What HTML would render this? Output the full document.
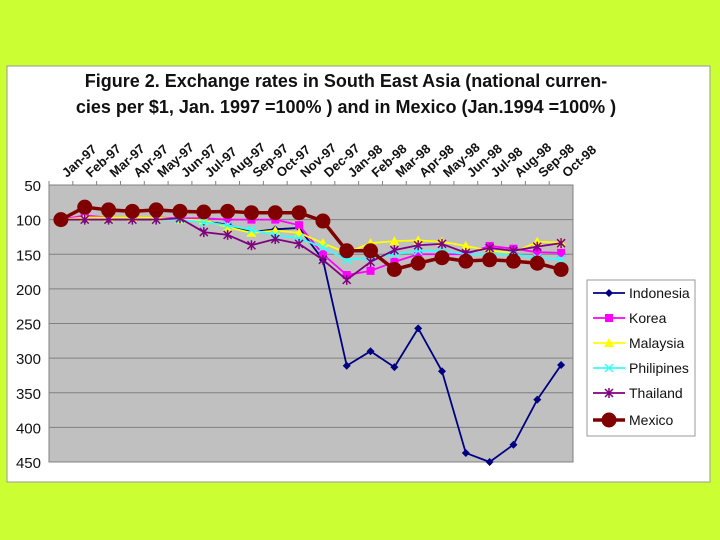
<!DOCTYPE html>
<html><head><meta charset="utf-8"><style>
body{margin:0;background:#ccff33;font-family:"Liberation Sans",Arial,sans-serif}
svg{display:block}
</style></head><body>
<svg width="720" height="540">
<rect x="0" y="0" width="720" height="540" fill="#ccff33"/>
<rect x="7" y="66" width="703" height="416" fill="#fff" stroke="#999"/>
<text x="346" y="87" text-anchor="middle" font-size="18" font-weight="bold" fill="#111">Figure 2. Exchange rates in  South East Asia (national curren-</text>
<text x="346" y="113" text-anchor="middle" font-size="18" font-weight="bold" fill="#111">cies per $1, Jan. 1997 =100% ) and in Mexico (Jan.1994 =100% )</text>
<rect x="49" y="185" width="524" height="277" fill="#c0c0c0" stroke="#808080"/>
<g id="grid"></g><g id="axes"></g><g id="series"></g>
<g>
<rect x="587" y="280" width="108" height="156" fill="#fff" stroke="#999"/>
<g id="legend"></g>
</g>
</svg>
<script>
const categories=["Jan-97","Feb-97","Mar-97","Apr-97","May-97","Jun-97","Jul-97","Aug-97","Sep-97","Oct-97","Nov-97","Dec-97","Jan-98","Feb-98","Mar-98","Apr-98","May-98","Jun-98","Jul-98","Aug-98","Sep-98","Oct-98"];
const yTicks=[50,100,150,200,250,300,350,400,450];
const indonesia=[100,100,100,99,98,100,103,107,118,114,112,158,311,290,313,257,319,437,450,425,360,310];
const korea=[100,94,97,97,97,98,98,100,100,100,108,150,180,174,161,150,150,150,138,142,147,148];
const malaysia=[100,97,97,97,97,100,101,111,119,116,119,134,148,134,131,130,132,138,145,148,132,133];
const philippines=[100,100,100,100,100,100,104,108,115,122,127,140,158,155,150,145,145,150,150,150,155,157];
const thailand=[100,100,100,100,100,98,118,122,137,128,135,158,187,161,144,137,135,148,141,145,139,134];
const mexico=[100,82,86,88,86,88,89,88,90,90,90,102,145,145,172,163,155,160,158,160,163,172];
const names=["Indonesia","Korea","Malaysia","Philipines","Thailand","Mexico"];
const ns="http://www.w3.org/2000/svg";
const X0=49,W=524,Y0=185,H=277;
const xs=i=>X0+W/categories.length*(i+0.5);
const ys=v=>Y0+(v-50)/400*H;
function mk(t,a,p){const e=document.createElementNS(ns,t);for(const k in a)e.setAttribute(k,a[k]);p.appendChild(e);return e;}
const grid=document.getElementById('grid'),axes=document.getElementById('axes'),ser=document.getElementById('series'),leg=document.getElementById('legend');
yTicks.forEach(v=>{
 const g=mk('line',{x1:X0,x2:X0+W,y1:ys(v),y2:ys(v),stroke:'#808080'},grid);
 
 
 const t=mk('text',{x:41,y:ys(v)+6,'text-anchor':'end','font-size':15,fill:'#111'},axes);
 t.textContent=v;
 
 
});
categories.forEach((c,i)=>{
 const x0=X0+W/categories.length*i;
 mk('line',{x1:x0,x2:x0,y1:Y0-4,y2:Y0,stroke:'#808080'},axes);
 const x=xs(i)+6;
 const t=mk('text',{x:x,y:178,'font-size':13,'font-weight':'bold',fill:'#111',transform:`rotate(-42 ${x} 178)`},axes);
 t.textContent=c;
 
 
});
function marker(type,x,y,col,p){
 if(type==='diamond')mk('polygon',{points:`${x},${y-4} ${x+4},${y} ${x},${y+4} ${x-4},${y}`,fill:col},p);
 else if(type==='square')mk('rect',{x:x-4,y:y-4,width:8,height:8,fill:col},p);
 else if(type==='tri')mk('polygon',{points:`${x},${y-5} ${x+5},${y+4} ${x-5},${y+4}`,fill:col},p);
 else if(type==='x'){mk('path',{d:`M${x-4} ${y-4}L${x+4} ${y+4}M${x+4} ${y-4}L${x-4} ${y+4}`,stroke:col,'stroke-width':1.5},p);}
 else if(type==='star'){mk('path',{d:`M${x-4} ${y-4}L${x+4} ${y+4}M${x+4} ${y-4}L${x-4} ${y+4}M${x} ${y-5}L${x} ${y+5}`,stroke:col,'stroke-width':1.5},p);}
 else if(type==='circle')mk('circle',{cx:x,cy:y,r:7.5,fill:col},p);
}
const sets=[[indonesia,'#000080','diamond',1.8],[korea,'#ff00ff','square',1.8],[malaysia,'#ffff00','tri',1.8],[philippines,'#33ffff','x',1.8],[thailand,'#800080','star',1.8],[mexico,'#800000','circle',3.5]];
sets.forEach(([d,col,m,w],k)=>{
 const g=mk('g',{},ser);
 
 
 mk('polyline',{points:d.map((v,i)=>xs(i)+','+ys(v)).join(' '),fill:'none',stroke:col,'stroke-width':w},g);
 d.forEach((v,i)=>marker(m,xs(i),ys(v),col,g));
 const ly=[293,318,343,368,393,420][k];
 const lg=mk('g',{},leg);
 
 
 mk('line',{x1:593,x2:625,y1:ly,y2:ly,stroke:col,'stroke-width':w},lg);
 marker(m,609,ly,col,lg);
 const t=mk('text',{x:629,y:ly+5,'font-size':14,fill:'#111'},lg);
 t.textContent=names[k];
});
</script>
</body></html>
